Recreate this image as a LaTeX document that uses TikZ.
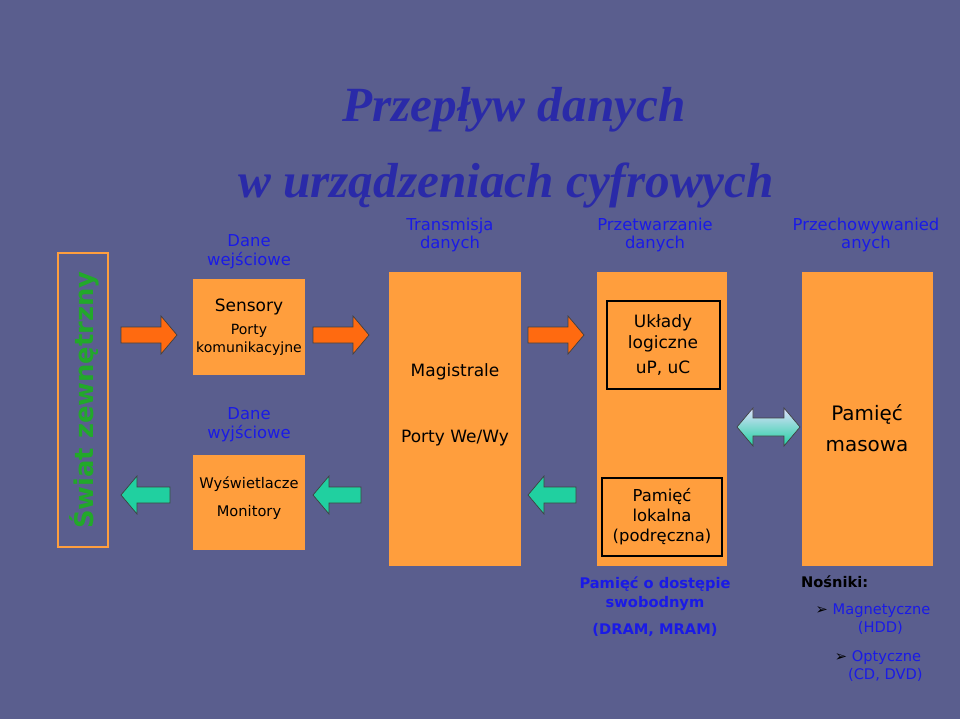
\documentclass[tikz,border=0pt]{standalone}
\usepackage{fontspec}
\setmainfont{DejaVu Sans}
\newfontfamily\titlefont{Liberation Serif}
\usetikzlibrary{positioning}
\definecolor{bgblue}{HTML}{5A5E8E}
\definecolor{boxorange}{HTML}{FF9E3D}
\definecolor{headblue}{HTML}{1A1AE6}
\definecolor{arrred}{HTML}{FF6A10}
\definecolor{arrgreen}{HTML}{20D0A0}
\definecolor{titleblue}{HTML}{2A2AA8}
\definecolor{worldgreen}{HTML}{22A82A}
\tikzset{
  head/.style={text=headblue,align=center,font=\fontsize{14}{16}\selectfont},
  body/.style={align=center,font=\fontsize{14.5}{18}\selectfont},
  title/.style={text=titleblue,font=\titlefont\bfseries\itshape\fontsize{42}{44}\selectfont},
  arr/.style={draw=black!75,line width=0.6pt}
}
% right-pointing block arrow: x0, y, length
\newcommand{\rarrow}[4]{\draw[arr,fill=#4] (#1,#2-8) -- (#1+#3-16,#2-8) -- (#1+#3-16,#2-19) -- (#1+#3,#2) -- (#1+#3-16,#2+19) -- (#1+#3-16,#2+8) -- (#1,#2+8) -- cycle;}
\newcommand{\larrow}[4]{\draw[arr,fill=#4] (#1,#2-8) -- (#1-#3+16,#2-8) -- (#1-#3+16,#2-19) -- (#1-#3,#2) -- (#1-#3+16,#2+19) -- (#1-#3+16,#2+8) -- (#1,#2+8) -- cycle;}
\begin{document}
\begin{tikzpicture}[x=0.03cm,y=-0.03cm]
  \fill[bgblue] (0,0) rectangle (960,719);
  \useasboundingbox (0,0) rectangle (960,719);
  % title
  \node (title) [title] at (514,110) {Przepływ danych};
  \node (subtitle) [title] at (506,185) {w urządzeniach cyfrowych};
  % outer world
  \draw[boxorange,line width=1pt] (58,253) rectangle (108,547);
  \node (world) [rotate=90,text=worldgreen,font=\bfseries\fontsize{22}{24}\selectfont] at (84,400) {Świat zewnętrzny};
  % blocks
  \fill[boxorange] (193,279) rectangle (305,375);
  \node (input) [body] at (249,327) {Sensory\\[2pt]{\fontsize{12}{14}\selectfont Porty}\\[-3pt]{\fontsize{12}{14}\selectfont komunikacyjne}};
  \fill[boxorange] (193,455) rectangle (305,550);
  \node (output) [body,font=\fontsize{12.5}{16}\selectfont] at (249,498) {Wyświetlacze\\[8pt]Monitory};
  \fill[boxorange] (389,272) rectangle (521,566);
  \node (bus) [body] at (455,372) {Magistrale};
  \node (ports) [body] at (455,438) {Porty We/Wy};
  \fill[boxorange] (597,272) rectangle (727,566);
  \draw[line width=1pt] (607,301) rectangle (720,389);
  \node (logic) [body] at (663,345) {Układy\\logiczne\\[4pt]uP, uC};
  \draw[line width=1pt] (602,478) rectangle (722,556);
  \node (cache) [body,font=\fontsize{14}{17}\selectfont] at (662,517) {Pamięć\\lokalna\\(podręczna)};
  \fill[boxorange] (802,272) rectangle (933,566);
  \node (mass) [body,font=\fontsize{17}{26}\selectfont] at (867,428) {Pamięć\\masowa};
  % headings
  \node[head] at (249,252) {Dane\\wejściowe};
  \node[head] at (249,425) {Dane\\wyjściowe};
  \node[head] at (450,235) {Transmisja\\danych};
  \node[head] at (655,235) {Przetwarzanie\\danych};
  \node[head] at (866,235) {Przechowywanied\\anych};
  % arrows
  \rarrow{121}{335}{56}{arrred}
  \rarrow{313}{335}{56}{arrred}
  \rarrow{528}{335}{56}{arrred}
  \larrow{170}{495}{49}{arrgreen}
  \larrow{361}{495}{48}{arrgreen}
  \larrow{576}{495}{48}{arrgreen}
  \draw[arr,top color=blue!12,bottom color=arrgreen] (737,427) -- (753,408) -- (753,418) -- (784,418) -- (784,408) -- (800,427) -- (784,446) -- (784,436) -- (753,436) -- (753,446) -- cycle;
  % bottom notes
  \node (ram) [head,font=\bfseries\fontsize{12.5}{16}\selectfont] at (655,594) {Pamięć o dostępie\\swobodnym};
  \node [head,font=\bfseries\fontsize{12.5}{16}\selectfont,below=4pt of ram] {(DRAM, MRAM)};
  \node (media) [text=black,font=\bfseries\fontsize{12.5}{16}\selectfont,anchor=west] at (797,582) {Nośniki:};
  \node [text=headblue,font=\fontsize{12.5}{16}\selectfont,align=center] at (873,619) {\textcolor{black}{➢} Magnetyczne\\\hspace*{1em}(HDD)};
  \node [text=headblue,font=\fontsize{12.5}{16}\selectfont,align=center] at (878,666) {\textcolor{black}{➢} Optyczne\\\hspace*{1em}(CD, DVD)};
\end{tikzpicture}
\end{document}
